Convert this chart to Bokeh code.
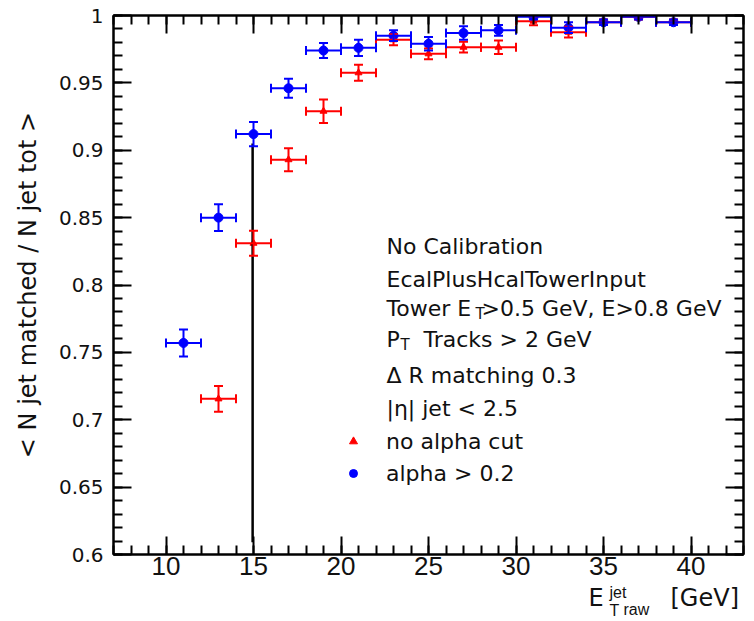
import numpy as np
from bokeh.plotting import figure
from bokeh.layouts import column
from bokeh.models import (ColumnDataSource, Whisker, TeeHead, FixedTicker, LinearAxis,
                          Label, Legend, LegendItem, Range1d, CustomJSTickFormatter)
from bokeh.embed import file_html
from bokeh.resources import INLINE

# ---------------- data ----------------
bin_half = 1.0  # half bin width in GeV

alpha_et = [11, 13, 15, 17, 19, 21, 23, 25, 27, 29, 31, 33, 35, 37, 39]
alpha_eff = [0.757, 0.850, 0.912, 0.946, 0.974, 0.976, 0.985, 0.979, 0.987, 0.989,
             0.999, 0.991, 0.995, 0.999, 0.995]
alpha_err = [0.010, 0.010, 0.009, 0.007, 0.0055, 0.006, 0.004, 0.005, 0.005, 0.004,
             0.002, 0.004, 0.002, 0.002, 0.002]

noalpha_et = [13, 15, 17, 19, 21, 23, 25, 27, 29, 31, 33, 35, 37, 39]
noalpha_eff = [0.7155, 0.831, 0.893, 0.929, 0.9575, 0.982, 0.9716, 0.9765, 0.9765,
               0.9958, 0.9876, 0.995, 0.999, 0.995]
noalpha_err = [0.0095, 0.0093, 0.0085, 0.0087, 0.006, 0.004, 0.004, 0.004, 0.005,
               0.003, 0.004, 0.002, 0.002, 0.002]

cut_x = 14.95
cut_y = [0.609, 0.905]

x_ticks = [10, 15, 20, 25, 30, 35, 40]
x_tick_labels = ["10", "15", "20", "25", "30", "35", "40"]
y_ticks = [0.6, 0.65, 0.7, 0.75, 0.8, 0.85, 0.9, 0.95, 1.0]
y_tick_labels = ["0.6", "0.65", "0.7", "0.75", "0.8", "0.85", "0.9", "0.95", "1"]
x_minor = list(range(7, 44))
y_minor = [round(v, 2) for v in np.arange(0.6, 1.0001, 0.01)]

info_lines = ["No Calibration", "EcalPlusHcalTowerInput"]
legend_labels = ["no alpha cut", "alpha > 0.2"]

# ---------------- main figure ----------------
p = figure(width=754, height=585, x_range=Range1d(7, 43), y_range=Range1d(0.6, 1.0),
           output_backend="svg", toolbar_location=None,
           min_border_left=113, min_border_right=11, min_border_top=15, min_border_bottom=31)
p.grid.visible = False
p.background_fill_color = "white"
p.border_fill_color = "white"
p.outline_line_color = "black"
p.outline_line_width = 2

xt = FixedTicker(ticks=x_ticks, minor_ticks=x_minor)
yt = FixedTicker(ticks=y_ticks, minor_ticks=y_minor)


def style_axis(ax):
    ax.axis_line_color = "black"
    ax.axis_line_width = 2
    ax.major_tick_in = 18
    ax.major_tick_out = 0
    ax.minor_tick_in = 9
    ax.minor_tick_out = 0
    ax.major_tick_line_width = 2
    ax.minor_tick_line_width = 2
    ax.major_tick_line_color = "black"
    ax.minor_tick_line_color = "black"


xa = p.xaxis[0]
xa.ticker = xt
style_axis(xa)
xa.major_label_overrides = {t: l for t, l in zip(x_ticks, x_tick_labels)}
xa.major_label_text_font = "Liberation Sans"
xa.major_label_text_font_size = "26px"
xa.major_label_text_color = "#111111"
xa.major_label_standoff = 2

ya = p.yaxis[0]
ya.ticker = yt
style_axis(ya)
ya.major_label_overrides = {t: l for t, l in zip(y_ticks, y_tick_labels)}
ya.major_label_text_font = "DejaVu Sans"
ya.major_label_text_font_size = "20px"
ya.major_label_text_color = "#111111"
ya.major_label_standoff = 10
ya.axis_label = "< N jet matched / N jet tot >"
ya.axis_label_text_font = "DejaVu Sans"
ya.axis_label_text_font_size = "24px"
ya.axis_label_text_font_style = "normal"
ya.axis_label_text_color = "#111111"
ya.axis_label_standoff = 14

blank = CustomJSTickFormatter(code="return ''")

top = LinearAxis(ticker=xt, formatter=blank)
style_axis(top)
top.major_label_standoff = 0
p.add_layout(top, "above")

right = LinearAxis(ticker=yt, formatter=blank)
style_axis(right)
right.major_label_standoff = 0
p.add_layout(right, "right")

# ---------------- data sources ----------------
src_r = ColumnDataSource(dict(
    x=noalpha_et, y=noalpha_eff,
    lo=[v - e for v, e in zip(noalpha_eff, noalpha_err)],
    hi=[v + e for v, e in zip(noalpha_eff, noalpha_err)],
    xl=[x - bin_half for x in noalpha_et],
    xh=[x + bin_half for x in noalpha_et]))
src_b = ColumnDataSource(dict(
    x=alpha_et, y=alpha_eff,
    lo=[v - e for v, e in zip(alpha_eff, alpha_err)],
    hi=[v + e for v, e in zip(alpha_eff, alpha_err)],
    xl=[x - bin_half for x in alpha_et],
    xh=[x + bin_half for x in alpha_et]))


def add_errors(src, color):
    for dim, base, lo, hi in (("height", "x", "lo", "hi"), ("width", "y", "xl", "xh")):
        w = Whisker(source=src, base=base, lower=lo, upper=hi, dimension=dim,
                    line_color=color, line_width=2, level="glyph",
                    upper_head=TeeHead(size=9, line_color=color, line_width=2),
                    lower_head=TeeHead(size=9, line_color=color, line_width=2))
        p.add_layout(w)


add_errors(src_r, "red")
r_red = p.scatter("x", "y", source=src_r, marker="triangle", size=7,
                  fill_color="red", line_color="red")
add_errors(src_b, "blue")
r_blue = p.scatter("x", "y", source=src_b, marker="circle", size=9,
                   fill_color="blue", line_color="blue")

# vertical black line
p.segment(x0=[cut_x], y0=[cut_y[0]], x1=[cut_x], y1=[cut_y[1]],
          line_color="black", line_width=2.5)

# ---------------- legend ----------------
legend = Legend(items=[LegendItem(label=legend_labels[0], renderers=[r_red]),
                       LegendItem(label=legend_labels[1], renderers=[r_blue])],
                location=(230, 65), orientation="vertical",
                glyph_width=20, glyph_height=32, label_height=32, spacing=0,
                label_standoff=23, padding=0, margin=0,
                label_text_font="DejaVu Sans", label_text_font_size="22px",
                label_text_color="#111111",
                border_line_alpha=0, background_fill_alpha=0)
p.add_layout(legend)


# ---------------- texts ----------------
def add_text(fig, txt, sx, sy, size, font="DejaVu Sans", units="screen"):
    fig.add_layout(Label(x=sx, y=sy, x_units=units, y_units=units, text=txt,
                         text_font=font, text_font_size=f"{size}px", text_color="#111111",
                         text_baseline="alphabetic", text_align="left"))


add_text(p, info_lines[0], 273, 308, 22)
add_text(p, info_lines[1], 273, 275, 22)
add_text(p, "Tower E", 273, 246, 22)
add_text(p, "T", 362, 241, 15)
add_text(p, ">0.5 GeV, E>0.8 GeV", 368, 246, 22)
add_text(p, "P", 273, 215, 22)
add_text(p, "T", 287, 210, 15)
add_text(p, "Tracks > 2 GeV", 310, 215, 22)
add_text(p, "\u0394 R matching 0.3", 273, 179, 22)
add_text(p, "|\u03b7| jet < 2.5", 273, 146, 22)

# ---------------- strip holding the x axis title ----------------
# the column aligns this strip's frame with the main frame (canvas px 113..743),
# so its data coordinates equal canvas pixels
strip = figure(width=754, height=36, x_range=Range1d(113, 743), y_range=Range1d(621, 585),
               output_backend="svg", toolbar_location=None,
               x_axis_type=None, y_axis_type=None,
               min_border_left=113, min_border_right=11, min_border_top=0, min_border_bottom=0)
strip.grid.visible = False
strip.outline_line_color = None
strip.background_fill_color = "white"
strip.border_fill_color = "white"

# E^{jet}_{T raw} [GeV]  (positions in canvas pixels)
add_text(strip, "E", 588, 597, 24, units="data")
add_text(strip, "jet", 609, 592, 16, "Liberation Sans", units="data")
add_text(strip, "T", 609, 610, 16, "Liberation Sans", units="data")
add_text(strip, "raw", 623, 609, 16, "Liberation Sans", units="data")
add_text(strip, "[GeV]", 670, 597, 24, units="data")

layout = column(p, strip, spacing=0)
open("out.html", "w").write(file_html(layout, INLINE))
